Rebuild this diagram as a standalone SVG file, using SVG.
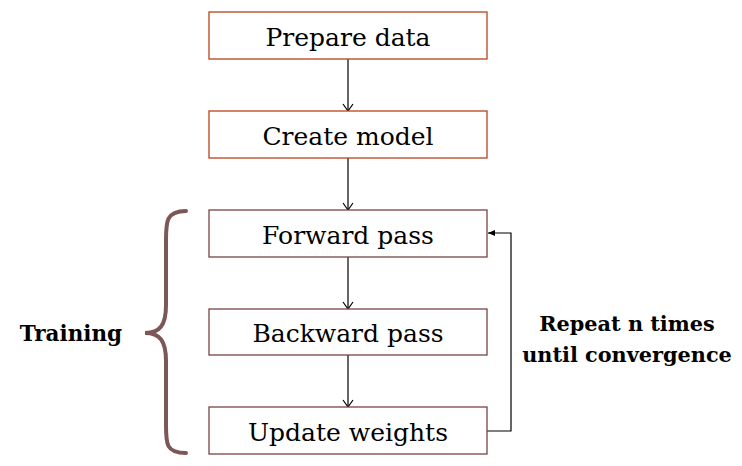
<svg xmlns="http://www.w3.org/2000/svg" width="742" height="466" viewBox="0 0 742 466">
<style>
.box{fill:#fff;stroke-width:1.3}
.b1{stroke:#b8421e}
.b2{stroke:#7a4444}
.lbl{font-family:"DejaVu Serif","Liberation Serif",serif;font-size:25px;fill:#000;text-anchor:middle}
.bold{font-family:"DejaVu Serif","Liberation Serif",serif;font-size:21.5px;font-weight:bold;fill:#000;text-anchor:middle}
.rep{font-size:20.8px}
.con{fill:none;stroke:#000;stroke-width:1.2}
</style>
<defs>
<marker id="open" markerWidth="12" markerHeight="12" refX="10" refY="6" orient="auto" markerUnits="userSpaceOnUse" viewBox="0 0 12 12">
<path d="M3,1 L10,6 L3,11" fill="none" stroke="#000" stroke-width="1.2"/>
</marker>
<marker id="fill" markerWidth="10" markerHeight="10" refX="8" refY="5" orient="auto" markerUnits="userSpaceOnUse" viewBox="0 0 10 10">
<path d="M1,2 L8,5 L1,8 Z" fill="#000"/>
</marker>
</defs>
<rect width="742" height="466" fill="#fff"/>
<g id="connectors">
<line class="con" x1="348" y1="59" x2="348" y2="111" marker-end="url(#open)"/>
<line class="con" x1="348" y1="158" x2="348" y2="210" marker-end="url(#open)"/>
<line class="con" x1="348" y1="257" x2="348" y2="309" marker-end="url(#open)"/>
<line class="con" x1="348" y1="355" x2="348" y2="407" marker-end="url(#open)"/>
<polyline class="con" points="487,431 511,431 511,233 488,233" marker-end="url(#fill)"/>
</g>
<g id="prepare"><rect class="box b1" x="209" y="12" width="278" height="47"/><text class="lbl" x="348" y="46">Prepare data</text></g>
<g id="create"><rect class="box b1" x="209" y="111" width="278" height="47"/><text class="lbl" x="348" y="145">Create model</text></g>
<g id="forward"><rect class="box b2" x="209" y="210" width="278" height="47"/><text class="lbl" x="348" y="244">Forward pass</text></g>
<g id="backward"><rect class="box b2" x="209" y="309" width="278" height="46"/><text class="lbl" x="348" y="342">Backward pass</text></g>
<g id="update"><rect class="box b2" x="209" y="407" width="278" height="47"/><text class="lbl" x="348" y="441">Update weights</text></g>
<g id="brace">
<path d="M186,211 C166,211 166,222 166,240 L166,305 C166,325 160,333 145,333 C160,333 166,341 166,361 L166,425 C166,444 166,453 186,453" fill="none" stroke="#7d5757" stroke-width="4" stroke-linecap="round"/>
</g>
<g id="training"><text class="bold" x="71" y="341">Training</text></g>
<g id="repeat"><text class="bold rep" x="627" y="331">Repeat n times</text><text class="bold rep" x="627" y="362">until convergence</text></g>
</svg>
